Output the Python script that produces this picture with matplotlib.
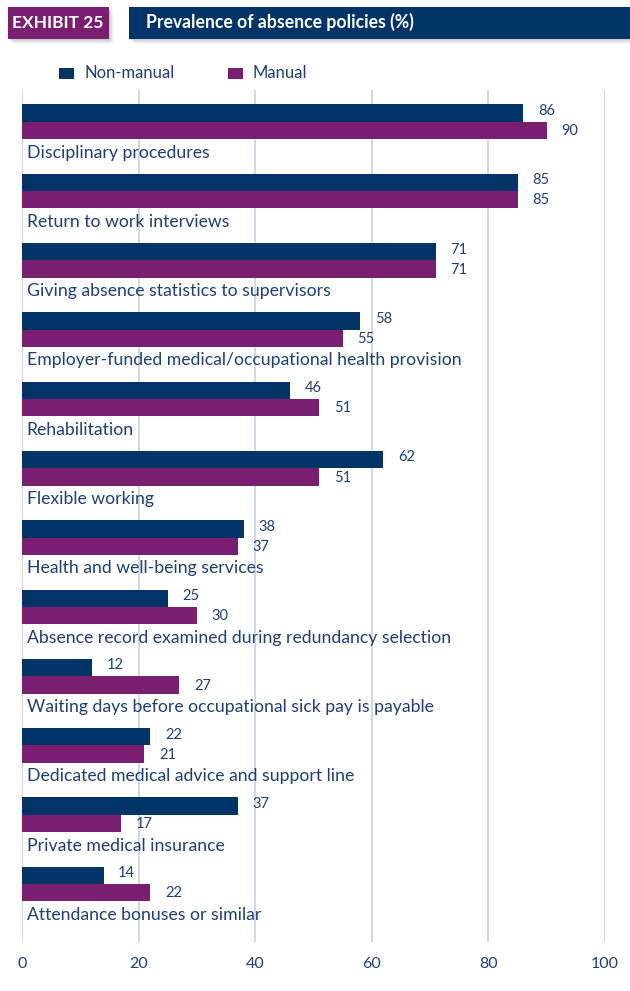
import matplotlib.pyplot as plt
import numpy as np
from matplotlib.patches import Rectangle

categories = [
    "Disciplinary procedures",
    "Return to work interviews",
    "Giving absence statistics to supervisors",
    "Employer-funded medical/occupational health provision",
    "Rehabilitation",
    "Flexible working",
    "Health and well-being services",
    "Absence record examined during redundancy selection",
    "Waiting days before occupational sick pay is payable",
    "Dedicated medical advice and support line",
    "Private medical insurance",
    "Attendance bonuses or similar",
]
non_manual = [86, 85, 71, 58, 46, 62, 38, 25, 12, 22, 37, 14]
manual = [90, 85, 71, 55, 51, 51, 37, 30, 27, 21, 17, 22]
x_ticks = [0, 20, 40, 60, 80, 100]

NAVY = "#003366"
PURPLE = "#7a1f6f"
TEXT = "#1f3f6e"
GRID = "#c8d2e2"

plt.rcParams['font.family'] = ['Lato', 'DejaVu Sans']

W, H = 630, 991
fig = plt.figure(figsize=(W / 100, H / 100), dpi=100)
ax = fig.add_axes([22 / W, 1 - 942 / H, (605 - 22) / W, (942 - 90) / H])

y = np.arange(len(categories))
h = 0.25
ax.barh(y, non_manual, height=h, color=NAVY, align='center', zorder=3)
ax.barh(y + h, manual, height=h, color=PURPLE, align='center', zorder=3)

for yi, v in zip(y, non_manual):
    ax.text(v + 2.5, yi - 0.03, str(v), color=TEXT, fontsize=10.5, va='center', ha='left')
for yi, v in zip(y, manual):
    ax.text(v + 2.5, yi + h + 0.01, str(v), color=TEXT, fontsize=10.5, va='center', ha='left')
for yi, name in zip(y, categories):
    ax.text(0.8, yi + 0.57, name, color=TEXT, fontsize=12.7, va='center', ha='left')

ax.set_xlim(0, 100)
ax.set_ylim(11.96, -0.332)
ax.set_xticks(x_ticks)
ax.set_xticklabels([str(t) for t in x_ticks], color=TEXT, fontsize=11.5)
ax.set_yticks([])
ax.tick_params(axis='x', length=0, pad=11)
ax.grid(axis='x', color=GRID, linewidth=1.2, zorder=0)
for s in ax.spines.values():
    s.set_visible(False)


def box(x0, y0, w, hgt, color, alpha=1.0):
    fig.patches.append(Rectangle((x0 / W, 1 - (y0 + hgt) / H), w / W, hgt / H,
                                 transform=fig.transFigure, color=color, alpha=alpha, lw=0))


# header boxes with a soft drop shadow
for d, a in [(5, 0.05), (4, 0.07), (3, 0.09), (2, 0.11), (1, 0.13)]:
    box(8 + d, 7 + d, 101, 32, '#6c7f9a', a)
    box(129 + d, 7 + d, 501, 32, '#6c7f9a', a)
box(8, 7, 101, 32, PURPLE)
box(129, 7, 501, 32, NAVY)
fig.text(58 / W, 1 - 23 / H, "EXHIBIT 25", color='white', fontsize=12.5,
         fontweight='bold', ha='center', va='center')
fig.text(146 / W, 1 - 22 / H, "Prevalence of absence policies (%)", color='white',
         fontsize=12.7, fontweight='bold', ha='left', va='center')

# legend
box(59, 68, 15, 11, NAVY)
fig.text(85 / W, 1 - 73 / H, "Non-manual", color=TEXT, fontsize=12, va='center')
box(228, 68, 15, 11, PURPLE)
fig.text(253 / W, 1 - 73 / H, "Manual", color=TEXT, fontsize=12, va='center')

fig.savefig("out.png", dpi=100)
